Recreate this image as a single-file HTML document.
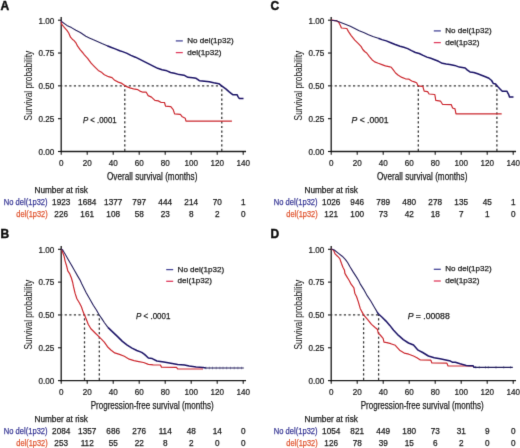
<!DOCTYPE html><html><head><meta charset="utf-8"><style>html,body{margin:0;padding:0;background:#fff;}svg{display:block;}</style></head><body>
<svg width="520" height="448" viewBox="0 0 520 448" font-family='"Liberation Sans", sans-serif'>
<defs><filter id="soft" x="0" y="0" width="520" height="448" filterUnits="userSpaceOnUse"><feConvolveMatrix order="3" kernelMatrix="0 1 0 1 8 1 0 1 0" divisor="12" edgeMode="none"/></filter></defs>
<rect width="520" height="448" fill="#fff"/>
<g filter="url(#soft)">
<g transform="translate(0,0)">
<text x="0.6" y="10.10" font-size="12" font-weight="bold" fill="#111" stroke="#111" stroke-width="0.45">A</text>
<line x1="61.2" y1="17" x2="61.2" y2="152.1" stroke="#1a1a1a" stroke-width="1.3"/>
<line x1="60.6" y1="151.5" x2="246" y2="151.5" stroke="#1a1a1a" stroke-width="1.3"/>
<line x1="58" y1="151.50" x2="61.2" y2="151.50" stroke="#1a1a1a" stroke-width="1.1"/>
<text transform="translate(54.2,154.85) scale(0.88,1)" font-size="9.2" text-anchor="end" fill="#222222" stroke="#222222" stroke-width="0.25">0.00</text>
<line x1="58" y1="118.67" x2="61.2" y2="118.67" stroke="#1a1a1a" stroke-width="1.1"/>
<text transform="translate(54.2,122.02) scale(0.88,1)" font-size="9.2" text-anchor="end" fill="#222222" stroke="#222222" stroke-width="0.25">0.25</text>
<line x1="58" y1="85.85" x2="61.2" y2="85.85" stroke="#1a1a1a" stroke-width="1.1"/>
<text transform="translate(54.2,89.20) scale(0.88,1)" font-size="9.2" text-anchor="end" fill="#222222" stroke="#222222" stroke-width="0.25">0.50</text>
<line x1="58" y1="53.02" x2="61.2" y2="53.02" stroke="#1a1a1a" stroke-width="1.1"/>
<text transform="translate(54.2,56.37) scale(0.88,1)" font-size="9.2" text-anchor="end" fill="#222222" stroke="#222222" stroke-width="0.25">0.75</text>
<line x1="58" y1="20.20" x2="61.2" y2="20.20" stroke="#1a1a1a" stroke-width="1.1"/>
<text transform="translate(54.2,23.55) scale(0.88,1)" font-size="9.2" text-anchor="end" fill="#222222" stroke="#222222" stroke-width="0.25">1.00</text>
<line x1="61.20" y1="151.5" x2="61.20" y2="154.7" stroke="#1a1a1a" stroke-width="1.1"/>
<text transform="translate(61.20,165.6) scale(0.88,1)" font-size="9.2" text-anchor="middle" fill="#222222" stroke="#222222" stroke-width="0.25">0</text>
<line x1="87.20" y1="151.5" x2="87.20" y2="154.7" stroke="#1a1a1a" stroke-width="1.1"/>
<text transform="translate(87.20,165.6) scale(0.88,1)" font-size="9.2" text-anchor="middle" fill="#222222" stroke="#222222" stroke-width="0.25">20</text>
<line x1="113.20" y1="151.5" x2="113.20" y2="154.7" stroke="#1a1a1a" stroke-width="1.1"/>
<text transform="translate(113.20,165.6) scale(0.88,1)" font-size="9.2" text-anchor="middle" fill="#222222" stroke="#222222" stroke-width="0.25">40</text>
<line x1="139.20" y1="151.5" x2="139.20" y2="154.7" stroke="#1a1a1a" stroke-width="1.1"/>
<text transform="translate(139.20,165.6) scale(0.88,1)" font-size="9.2" text-anchor="middle" fill="#222222" stroke="#222222" stroke-width="0.25">60</text>
<line x1="165.20" y1="151.5" x2="165.20" y2="154.7" stroke="#1a1a1a" stroke-width="1.1"/>
<text transform="translate(165.20,165.6) scale(0.88,1)" font-size="9.2" text-anchor="middle" fill="#222222" stroke="#222222" stroke-width="0.25">80</text>
<line x1="191.20" y1="151.5" x2="191.20" y2="154.7" stroke="#1a1a1a" stroke-width="1.1"/>
<text transform="translate(191.20,165.6) scale(0.88,1)" font-size="9.2" text-anchor="middle" fill="#222222" stroke="#222222" stroke-width="0.25">100</text>
<line x1="217.20" y1="151.5" x2="217.20" y2="154.7" stroke="#1a1a1a" stroke-width="1.1"/>
<text transform="translate(217.20,165.6) scale(0.88,1)" font-size="9.2" text-anchor="middle" fill="#222222" stroke="#222222" stroke-width="0.25">120</text>
<line x1="243.20" y1="151.5" x2="243.20" y2="154.7" stroke="#1a1a1a" stroke-width="1.1"/>
<text transform="translate(243.20,165.6) scale(0.88,1)" font-size="9.2" text-anchor="middle" fill="#222222" stroke="#222222" stroke-width="0.25">140</text>
<text x="152.2" y="179.8" font-size="10" text-anchor="middle" fill="#222222" stroke="#222222" stroke-width="0.25" textLength="90.5" lengthAdjust="spacingAndGlyphs">Overall survival (months)</text>
<text transform="translate(32.4,85.6) rotate(-90)" x="0" y="0" font-size="10.3" text-anchor="middle" fill="#222222" stroke="#222222" stroke-width="0.05" textLength="69.6" lengthAdjust="spacingAndGlyphs">Survival probability</text>
<text x="83.0" y="122.5" font-size="8.3" fill="#222222" stroke="#222222" stroke-width="0.25" textLength="33.6" lengthAdjust="spacingAndGlyphs"><tspan font-style="italic">P</tspan> &lt; .0001</text>
<line x1="175.8" y1="40.9" x2="182.8" y2="40.9" stroke="#4a4a9a" stroke-width="1.3"/>
<line x1="175.8" y1="52.599999999999994" x2="182.8" y2="52.599999999999994" stroke="#e04060" stroke-width="1.3"/>
<text x="187.20000000000002" y="43.1" font-size="8" fill="#222222" stroke="#222222" stroke-width="0.25" textLength="46.5" lengthAdjust="spacingAndGlyphs">No del(1p32)</text>
<text x="187.20000000000002" y="54.8" font-size="8" fill="#222222" stroke="#222222" stroke-width="0.25" textLength="34.3" lengthAdjust="spacingAndGlyphs">del(1p32)</text>
<text x="61.2" y="193" font-size="8.3" text-anchor="middle" fill="#222222" stroke="#222222" stroke-width="0.25" textLength="53.5" lengthAdjust="spacingAndGlyphs">Number at risk</text>
<text x="47.6" y="205.2" font-size="8.2" text-anchor="end" fill="#40409a" stroke="#40409a" stroke-width="0.25" textLength="43.8" lengthAdjust="spacingAndGlyphs">No del(1p32)</text>
<text x="47.6" y="217.3" font-size="8.2" text-anchor="end" fill="#e05834" stroke="#e05834" stroke-width="0.25" textLength="31.3" lengthAdjust="spacingAndGlyphs">del(1p32)</text>
<text x="61.20" y="205.2" font-size="8.2" text-anchor="middle" fill="#222222" stroke="#222222" stroke-width="0.25">1923</text>
<text x="87.20" y="205.2" font-size="8.2" text-anchor="middle" fill="#222222" stroke="#222222" stroke-width="0.25">1684</text>
<text x="113.20" y="205.2" font-size="8.2" text-anchor="middle" fill="#222222" stroke="#222222" stroke-width="0.25">1377</text>
<text x="139.20" y="205.2" font-size="8.2" text-anchor="middle" fill="#222222" stroke="#222222" stroke-width="0.25">797</text>
<text x="165.20" y="205.2" font-size="8.2" text-anchor="middle" fill="#222222" stroke="#222222" stroke-width="0.25">444</text>
<text x="191.20" y="205.2" font-size="8.2" text-anchor="middle" fill="#222222" stroke="#222222" stroke-width="0.25">214</text>
<text x="217.20" y="205.2" font-size="8.2" text-anchor="middle" fill="#222222" stroke="#222222" stroke-width="0.25">70</text>
<text x="243.20" y="205.2" font-size="8.2" text-anchor="middle" fill="#222222" stroke="#222222" stroke-width="0.25">1</text>
<text x="61.20" y="217.3" font-size="8.2" text-anchor="middle" fill="#222222" stroke="#222222" stroke-width="0.25">226</text>
<text x="87.20" y="217.3" font-size="8.2" text-anchor="middle" fill="#222222" stroke="#222222" stroke-width="0.25">161</text>
<text x="113.20" y="217.3" font-size="8.2" text-anchor="middle" fill="#222222" stroke="#222222" stroke-width="0.25">108</text>
<text x="139.20" y="217.3" font-size="8.2" text-anchor="middle" fill="#222222" stroke="#222222" stroke-width="0.25">58</text>
<text x="165.20" y="217.3" font-size="8.2" text-anchor="middle" fill="#222222" stroke="#222222" stroke-width="0.25">23</text>
<text x="191.20" y="217.3" font-size="8.2" text-anchor="middle" fill="#222222" stroke="#222222" stroke-width="0.25">8</text>
<text x="217.20" y="217.3" font-size="8.2" text-anchor="middle" fill="#222222" stroke="#222222" stroke-width="0.25">2</text>
<text x="243.20" y="217.3" font-size="8.2" text-anchor="middle" fill="#222222" stroke="#222222" stroke-width="0.25">0</text>
</g>
<g transform="translate(270,0)">
<text x="0.6" y="10.10" font-size="12" font-weight="bold" fill="#111" stroke="#111" stroke-width="0.45">C</text>
<line x1="61.2" y1="17" x2="61.2" y2="152.1" stroke="#1a1a1a" stroke-width="1.3"/>
<line x1="60.6" y1="151.5" x2="246" y2="151.5" stroke="#1a1a1a" stroke-width="1.3"/>
<line x1="58" y1="151.50" x2="61.2" y2="151.50" stroke="#1a1a1a" stroke-width="1.1"/>
<text transform="translate(54.2,154.85) scale(0.88,1)" font-size="9.2" text-anchor="end" fill="#222222" stroke="#222222" stroke-width="0.25">0.00</text>
<line x1="58" y1="118.67" x2="61.2" y2="118.67" stroke="#1a1a1a" stroke-width="1.1"/>
<text transform="translate(54.2,122.02) scale(0.88,1)" font-size="9.2" text-anchor="end" fill="#222222" stroke="#222222" stroke-width="0.25">0.25</text>
<line x1="58" y1="85.85" x2="61.2" y2="85.85" stroke="#1a1a1a" stroke-width="1.1"/>
<text transform="translate(54.2,89.20) scale(0.88,1)" font-size="9.2" text-anchor="end" fill="#222222" stroke="#222222" stroke-width="0.25">0.50</text>
<line x1="58" y1="53.02" x2="61.2" y2="53.02" stroke="#1a1a1a" stroke-width="1.1"/>
<text transform="translate(54.2,56.37) scale(0.88,1)" font-size="9.2" text-anchor="end" fill="#222222" stroke="#222222" stroke-width="0.25">0.75</text>
<line x1="58" y1="20.20" x2="61.2" y2="20.20" stroke="#1a1a1a" stroke-width="1.1"/>
<text transform="translate(54.2,23.55) scale(0.88,1)" font-size="9.2" text-anchor="end" fill="#222222" stroke="#222222" stroke-width="0.25">1.00</text>
<line x1="61.20" y1="151.5" x2="61.20" y2="154.7" stroke="#1a1a1a" stroke-width="1.1"/>
<text transform="translate(61.20,165.6) scale(0.88,1)" font-size="9.2" text-anchor="middle" fill="#222222" stroke="#222222" stroke-width="0.25">0</text>
<line x1="87.20" y1="151.5" x2="87.20" y2="154.7" stroke="#1a1a1a" stroke-width="1.1"/>
<text transform="translate(87.20,165.6) scale(0.88,1)" font-size="9.2" text-anchor="middle" fill="#222222" stroke="#222222" stroke-width="0.25">20</text>
<line x1="113.20" y1="151.5" x2="113.20" y2="154.7" stroke="#1a1a1a" stroke-width="1.1"/>
<text transform="translate(113.20,165.6) scale(0.88,1)" font-size="9.2" text-anchor="middle" fill="#222222" stroke="#222222" stroke-width="0.25">40</text>
<line x1="139.20" y1="151.5" x2="139.20" y2="154.7" stroke="#1a1a1a" stroke-width="1.1"/>
<text transform="translate(139.20,165.6) scale(0.88,1)" font-size="9.2" text-anchor="middle" fill="#222222" stroke="#222222" stroke-width="0.25">60</text>
<line x1="165.20" y1="151.5" x2="165.20" y2="154.7" stroke="#1a1a1a" stroke-width="1.1"/>
<text transform="translate(165.20,165.6) scale(0.88,1)" font-size="9.2" text-anchor="middle" fill="#222222" stroke="#222222" stroke-width="0.25">80</text>
<line x1="191.20" y1="151.5" x2="191.20" y2="154.7" stroke="#1a1a1a" stroke-width="1.1"/>
<text transform="translate(191.20,165.6) scale(0.88,1)" font-size="9.2" text-anchor="middle" fill="#222222" stroke="#222222" stroke-width="0.25">100</text>
<line x1="217.20" y1="151.5" x2="217.20" y2="154.7" stroke="#1a1a1a" stroke-width="1.1"/>
<text transform="translate(217.20,165.6) scale(0.88,1)" font-size="9.2" text-anchor="middle" fill="#222222" stroke="#222222" stroke-width="0.25">120</text>
<line x1="243.20" y1="151.5" x2="243.20" y2="154.7" stroke="#1a1a1a" stroke-width="1.1"/>
<text transform="translate(243.20,165.6) scale(0.88,1)" font-size="9.2" text-anchor="middle" fill="#222222" stroke="#222222" stroke-width="0.25">140</text>
<text x="152.2" y="179.8" font-size="10" text-anchor="middle" fill="#222222" stroke="#222222" stroke-width="0.25" textLength="90.5" lengthAdjust="spacingAndGlyphs">Overall survival (months)</text>
<text transform="translate(32.4,85.6) rotate(-90)" x="0" y="0" font-size="10.3" text-anchor="middle" fill="#222222" stroke="#222222" stroke-width="0.05" textLength="69.6" lengthAdjust="spacingAndGlyphs">Survival probability</text>
<text x="81.60000000000002" y="123.0" font-size="8.9" fill="#222222" stroke="#222222" stroke-width="0.25" textLength="37.0" lengthAdjust="spacingAndGlyphs"><tspan font-style="italic">P</tspan> &lt; .0001</text>
<line x1="163.8" y1="30.9" x2="170.8" y2="30.9" stroke="#4a4a9a" stroke-width="1.3"/>
<line x1="163.8" y1="42.599999999999994" x2="170.8" y2="42.599999999999994" stroke="#e04060" stroke-width="1.3"/>
<text x="175.20000000000002" y="33.1" font-size="8" fill="#222222" stroke="#222222" stroke-width="0.25" textLength="46.5" lengthAdjust="spacingAndGlyphs">No del(1p32)</text>
<text x="175.20000000000002" y="44.8" font-size="8" fill="#222222" stroke="#222222" stroke-width="0.25" textLength="34.3" lengthAdjust="spacingAndGlyphs">del(1p32)</text>
<text x="61.2" y="193" font-size="8.3" text-anchor="middle" fill="#222222" stroke="#222222" stroke-width="0.25" textLength="53.5" lengthAdjust="spacingAndGlyphs">Number at risk</text>
<text x="47.6" y="205.2" font-size="8.2" text-anchor="end" fill="#40409a" stroke="#40409a" stroke-width="0.25" textLength="43.8" lengthAdjust="spacingAndGlyphs">No del(1p32)</text>
<text x="47.6" y="217.3" font-size="8.2" text-anchor="end" fill="#e05834" stroke="#e05834" stroke-width="0.25" textLength="31.3" lengthAdjust="spacingAndGlyphs">del(1p32)</text>
<text x="61.20" y="205.2" font-size="8.2" text-anchor="middle" fill="#222222" stroke="#222222" stroke-width="0.25">1026</text>
<text x="87.20" y="205.2" font-size="8.2" text-anchor="middle" fill="#222222" stroke="#222222" stroke-width="0.25">946</text>
<text x="113.20" y="205.2" font-size="8.2" text-anchor="middle" fill="#222222" stroke="#222222" stroke-width="0.25">789</text>
<text x="139.20" y="205.2" font-size="8.2" text-anchor="middle" fill="#222222" stroke="#222222" stroke-width="0.25">480</text>
<text x="165.20" y="205.2" font-size="8.2" text-anchor="middle" fill="#222222" stroke="#222222" stroke-width="0.25">278</text>
<text x="191.20" y="205.2" font-size="8.2" text-anchor="middle" fill="#222222" stroke="#222222" stroke-width="0.25">135</text>
<text x="217.20" y="205.2" font-size="8.2" text-anchor="middle" fill="#222222" stroke="#222222" stroke-width="0.25">45</text>
<text x="243.20" y="205.2" font-size="8.2" text-anchor="middle" fill="#222222" stroke="#222222" stroke-width="0.25">1</text>
<text x="61.20" y="217.3" font-size="8.2" text-anchor="middle" fill="#222222" stroke="#222222" stroke-width="0.25">121</text>
<text x="87.20" y="217.3" font-size="8.2" text-anchor="middle" fill="#222222" stroke="#222222" stroke-width="0.25">100</text>
<text x="113.20" y="217.3" font-size="8.2" text-anchor="middle" fill="#222222" stroke="#222222" stroke-width="0.25">73</text>
<text x="139.20" y="217.3" font-size="8.2" text-anchor="middle" fill="#222222" stroke="#222222" stroke-width="0.25">42</text>
<text x="165.20" y="217.3" font-size="8.2" text-anchor="middle" fill="#222222" stroke="#222222" stroke-width="0.25">18</text>
<text x="191.20" y="217.3" font-size="8.2" text-anchor="middle" fill="#222222" stroke="#222222" stroke-width="0.25">7</text>
<text x="217.20" y="217.3" font-size="8.2" text-anchor="middle" fill="#222222" stroke="#222222" stroke-width="0.25">1</text>
<text x="243.20" y="217.3" font-size="8.2" text-anchor="middle" fill="#222222" stroke="#222222" stroke-width="0.25">0</text>
</g>
<g transform="translate(0,229.1)">
<text x="0.6" y="8.70" font-size="12" font-weight="bold" fill="#111" stroke="#111" stroke-width="0.45">B</text>
<line x1="61.2" y1="17" x2="61.2" y2="152.1" stroke="#1a1a1a" stroke-width="1.3"/>
<line x1="60.6" y1="151.5" x2="246" y2="151.5" stroke="#1a1a1a" stroke-width="1.3"/>
<line x1="58" y1="151.50" x2="61.2" y2="151.50" stroke="#1a1a1a" stroke-width="1.1"/>
<text transform="translate(54.2,154.85) scale(0.88,1)" font-size="9.2" text-anchor="end" fill="#222222" stroke="#222222" stroke-width="0.25">0.00</text>
<line x1="58" y1="118.67" x2="61.2" y2="118.67" stroke="#1a1a1a" stroke-width="1.1"/>
<text transform="translate(54.2,122.02) scale(0.88,1)" font-size="9.2" text-anchor="end" fill="#222222" stroke="#222222" stroke-width="0.25">0.25</text>
<line x1="58" y1="85.85" x2="61.2" y2="85.85" stroke="#1a1a1a" stroke-width="1.1"/>
<text transform="translate(54.2,89.20) scale(0.88,1)" font-size="9.2" text-anchor="end" fill="#222222" stroke="#222222" stroke-width="0.25">0.50</text>
<line x1="58" y1="53.02" x2="61.2" y2="53.02" stroke="#1a1a1a" stroke-width="1.1"/>
<text transform="translate(54.2,56.37) scale(0.88,1)" font-size="9.2" text-anchor="end" fill="#222222" stroke="#222222" stroke-width="0.25">0.75</text>
<line x1="58" y1="20.20" x2="61.2" y2="20.20" stroke="#1a1a1a" stroke-width="1.1"/>
<text transform="translate(54.2,23.55) scale(0.88,1)" font-size="9.2" text-anchor="end" fill="#222222" stroke="#222222" stroke-width="0.25">1.00</text>
<line x1="61.20" y1="151.5" x2="61.20" y2="154.7" stroke="#1a1a1a" stroke-width="1.1"/>
<text transform="translate(61.20,165.6) scale(0.88,1)" font-size="9.2" text-anchor="middle" fill="#222222" stroke="#222222" stroke-width="0.25">0</text>
<line x1="87.20" y1="151.5" x2="87.20" y2="154.7" stroke="#1a1a1a" stroke-width="1.1"/>
<text transform="translate(87.20,165.6) scale(0.88,1)" font-size="9.2" text-anchor="middle" fill="#222222" stroke="#222222" stroke-width="0.25">20</text>
<line x1="113.20" y1="151.5" x2="113.20" y2="154.7" stroke="#1a1a1a" stroke-width="1.1"/>
<text transform="translate(113.20,165.6) scale(0.88,1)" font-size="9.2" text-anchor="middle" fill="#222222" stroke="#222222" stroke-width="0.25">40</text>
<line x1="139.20" y1="151.5" x2="139.20" y2="154.7" stroke="#1a1a1a" stroke-width="1.1"/>
<text transform="translate(139.20,165.6) scale(0.88,1)" font-size="9.2" text-anchor="middle" fill="#222222" stroke="#222222" stroke-width="0.25">60</text>
<line x1="165.20" y1="151.5" x2="165.20" y2="154.7" stroke="#1a1a1a" stroke-width="1.1"/>
<text transform="translate(165.20,165.6) scale(0.88,1)" font-size="9.2" text-anchor="middle" fill="#222222" stroke="#222222" stroke-width="0.25">80</text>
<line x1="191.20" y1="151.5" x2="191.20" y2="154.7" stroke="#1a1a1a" stroke-width="1.1"/>
<text transform="translate(191.20,165.6) scale(0.88,1)" font-size="9.2" text-anchor="middle" fill="#222222" stroke="#222222" stroke-width="0.25">100</text>
<line x1="217.20" y1="151.5" x2="217.20" y2="154.7" stroke="#1a1a1a" stroke-width="1.1"/>
<text transform="translate(217.20,165.6) scale(0.88,1)" font-size="9.2" text-anchor="middle" fill="#222222" stroke="#222222" stroke-width="0.25">120</text>
<line x1="243.20" y1="151.5" x2="243.20" y2="154.7" stroke="#1a1a1a" stroke-width="1.1"/>
<text transform="translate(243.20,165.6) scale(0.88,1)" font-size="9.2" text-anchor="middle" fill="#222222" stroke="#222222" stroke-width="0.25">140</text>
<text x="152.2" y="179.8" font-size="10" text-anchor="middle" fill="#222222" stroke="#222222" stroke-width="0.25" textLength="123" lengthAdjust="spacingAndGlyphs">Progression-free survival (months)</text>
<text transform="translate(32.4,85.6) rotate(-90)" x="0" y="0" font-size="10.3" text-anchor="middle" fill="#222222" stroke="#222222" stroke-width="0.05" textLength="69.6" lengthAdjust="spacingAndGlyphs">Survival probability</text>
<text x="136.1" y="89.79999999999998" font-size="8.6" fill="#222222" stroke="#222222" stroke-width="0.25" textLength="34.3" lengthAdjust="spacingAndGlyphs"><tspan font-style="italic">P</tspan> &lt; .0001</text>
<line x1="166.2" y1="40.50000000000003" x2="173.2" y2="40.50000000000003" stroke="#4a4a9a" stroke-width="1.3"/>
<line x1="166.2" y1="52.20000000000003" x2="173.2" y2="52.20000000000003" stroke="#e04060" stroke-width="1.3"/>
<text x="177.6" y="42.70000000000003" font-size="8" fill="#222222" stroke="#222222" stroke-width="0.25" textLength="46.5" lengthAdjust="spacingAndGlyphs">No del(1p32)</text>
<text x="177.6" y="54.40000000000003" font-size="8" fill="#222222" stroke="#222222" stroke-width="0.25" textLength="34.3" lengthAdjust="spacingAndGlyphs">del(1p32)</text>
<text x="61.2" y="193" font-size="8.3" text-anchor="middle" fill="#222222" stroke="#222222" stroke-width="0.25" textLength="53.5" lengthAdjust="spacingAndGlyphs">Number at risk</text>
<text x="47.6" y="205.2" font-size="8.2" text-anchor="end" fill="#40409a" stroke="#40409a" stroke-width="0.25" textLength="43.8" lengthAdjust="spacingAndGlyphs">No del(1p32)</text>
<text x="47.6" y="217.3" font-size="8.2" text-anchor="end" fill="#e05834" stroke="#e05834" stroke-width="0.25" textLength="31.3" lengthAdjust="spacingAndGlyphs">del(1p32)</text>
<text x="61.20" y="205.2" font-size="8.2" text-anchor="middle" fill="#222222" stroke="#222222" stroke-width="0.25">2084</text>
<text x="87.20" y="205.2" font-size="8.2" text-anchor="middle" fill="#222222" stroke="#222222" stroke-width="0.25">1357</text>
<text x="113.20" y="205.2" font-size="8.2" text-anchor="middle" fill="#222222" stroke="#222222" stroke-width="0.25">686</text>
<text x="139.20" y="205.2" font-size="8.2" text-anchor="middle" fill="#222222" stroke="#222222" stroke-width="0.25">276</text>
<text x="165.20" y="205.2" font-size="8.2" text-anchor="middle" fill="#222222" stroke="#222222" stroke-width="0.25">114</text>
<text x="191.20" y="205.2" font-size="8.2" text-anchor="middle" fill="#222222" stroke="#222222" stroke-width="0.25">48</text>
<text x="217.20" y="205.2" font-size="8.2" text-anchor="middle" fill="#222222" stroke="#222222" stroke-width="0.25">14</text>
<text x="243.20" y="205.2" font-size="8.2" text-anchor="middle" fill="#222222" stroke="#222222" stroke-width="0.25">0</text>
<text x="61.20" y="217.3" font-size="8.2" text-anchor="middle" fill="#222222" stroke="#222222" stroke-width="0.25">253</text>
<text x="87.20" y="217.3" font-size="8.2" text-anchor="middle" fill="#222222" stroke="#222222" stroke-width="0.25">112</text>
<text x="113.20" y="217.3" font-size="8.2" text-anchor="middle" fill="#222222" stroke="#222222" stroke-width="0.25">55</text>
<text x="139.20" y="217.3" font-size="8.2" text-anchor="middle" fill="#222222" stroke="#222222" stroke-width="0.25">22</text>
<text x="165.20" y="217.3" font-size="8.2" text-anchor="middle" fill="#222222" stroke="#222222" stroke-width="0.25">8</text>
<text x="191.20" y="217.3" font-size="8.2" text-anchor="middle" fill="#222222" stroke="#222222" stroke-width="0.25">2</text>
<text x="217.20" y="217.3" font-size="8.2" text-anchor="middle" fill="#222222" stroke="#222222" stroke-width="0.25">0</text>
<text x="243.20" y="217.3" font-size="8.2" text-anchor="middle" fill="#222222" stroke="#222222" stroke-width="0.25">0</text>
</g>
<g transform="translate(270,229.1)">
<text x="0.6" y="8.70" font-size="12" font-weight="bold" fill="#111" stroke="#111" stroke-width="0.45">D</text>
<line x1="61.2" y1="17" x2="61.2" y2="152.1" stroke="#1a1a1a" stroke-width="1.3"/>
<line x1="60.6" y1="151.5" x2="246" y2="151.5" stroke="#1a1a1a" stroke-width="1.3"/>
<line x1="58" y1="151.50" x2="61.2" y2="151.50" stroke="#1a1a1a" stroke-width="1.1"/>
<text transform="translate(54.2,154.85) scale(0.88,1)" font-size="9.2" text-anchor="end" fill="#222222" stroke="#222222" stroke-width="0.25">0.00</text>
<line x1="58" y1="118.67" x2="61.2" y2="118.67" stroke="#1a1a1a" stroke-width="1.1"/>
<text transform="translate(54.2,122.02) scale(0.88,1)" font-size="9.2" text-anchor="end" fill="#222222" stroke="#222222" stroke-width="0.25">0.25</text>
<line x1="58" y1="85.85" x2="61.2" y2="85.85" stroke="#1a1a1a" stroke-width="1.1"/>
<text transform="translate(54.2,89.20) scale(0.88,1)" font-size="9.2" text-anchor="end" fill="#222222" stroke="#222222" stroke-width="0.25">0.50</text>
<line x1="58" y1="53.02" x2="61.2" y2="53.02" stroke="#1a1a1a" stroke-width="1.1"/>
<text transform="translate(54.2,56.37) scale(0.88,1)" font-size="9.2" text-anchor="end" fill="#222222" stroke="#222222" stroke-width="0.25">0.75</text>
<line x1="58" y1="20.20" x2="61.2" y2="20.20" stroke="#1a1a1a" stroke-width="1.1"/>
<text transform="translate(54.2,23.55) scale(0.88,1)" font-size="9.2" text-anchor="end" fill="#222222" stroke="#222222" stroke-width="0.25">1.00</text>
<line x1="61.20" y1="151.5" x2="61.20" y2="154.7" stroke="#1a1a1a" stroke-width="1.1"/>
<text transform="translate(61.20,165.6) scale(0.88,1)" font-size="9.2" text-anchor="middle" fill="#222222" stroke="#222222" stroke-width="0.25">0</text>
<line x1="87.20" y1="151.5" x2="87.20" y2="154.7" stroke="#1a1a1a" stroke-width="1.1"/>
<text transform="translate(87.20,165.6) scale(0.88,1)" font-size="9.2" text-anchor="middle" fill="#222222" stroke="#222222" stroke-width="0.25">20</text>
<line x1="113.20" y1="151.5" x2="113.20" y2="154.7" stroke="#1a1a1a" stroke-width="1.1"/>
<text transform="translate(113.20,165.6) scale(0.88,1)" font-size="9.2" text-anchor="middle" fill="#222222" stroke="#222222" stroke-width="0.25">40</text>
<line x1="139.20" y1="151.5" x2="139.20" y2="154.7" stroke="#1a1a1a" stroke-width="1.1"/>
<text transform="translate(139.20,165.6) scale(0.88,1)" font-size="9.2" text-anchor="middle" fill="#222222" stroke="#222222" stroke-width="0.25">60</text>
<line x1="165.20" y1="151.5" x2="165.20" y2="154.7" stroke="#1a1a1a" stroke-width="1.1"/>
<text transform="translate(165.20,165.6) scale(0.88,1)" font-size="9.2" text-anchor="middle" fill="#222222" stroke="#222222" stroke-width="0.25">80</text>
<line x1="191.20" y1="151.5" x2="191.20" y2="154.7" stroke="#1a1a1a" stroke-width="1.1"/>
<text transform="translate(191.20,165.6) scale(0.88,1)" font-size="9.2" text-anchor="middle" fill="#222222" stroke="#222222" stroke-width="0.25">100</text>
<line x1="217.20" y1="151.5" x2="217.20" y2="154.7" stroke="#1a1a1a" stroke-width="1.1"/>
<text transform="translate(217.20,165.6) scale(0.88,1)" font-size="9.2" text-anchor="middle" fill="#222222" stroke="#222222" stroke-width="0.25">120</text>
<line x1="243.20" y1="151.5" x2="243.20" y2="154.7" stroke="#1a1a1a" stroke-width="1.1"/>
<text transform="translate(243.20,165.6) scale(0.88,1)" font-size="9.2" text-anchor="middle" fill="#222222" stroke="#222222" stroke-width="0.25">140</text>
<text x="152.2" y="179.8" font-size="10" text-anchor="middle" fill="#222222" stroke="#222222" stroke-width="0.25" textLength="123" lengthAdjust="spacingAndGlyphs">Progression-free survival (months)</text>
<text transform="translate(32.4,85.6) rotate(-90)" x="0" y="0" font-size="10.3" text-anchor="middle" fill="#222222" stroke="#222222" stroke-width="0.05" textLength="69.6" lengthAdjust="spacingAndGlyphs">Survival probability</text>
<text x="137.7" y="89.50000000000003" font-size="8.5" fill="#222222" stroke="#222222" stroke-width="0.25" textLength="42.0" lengthAdjust="spacingAndGlyphs"><tspan font-style="italic">P</tspan> = .00088</text>
<line x1="163.8" y1="40.20000000000002" x2="170.8" y2="40.20000000000002" stroke="#4a4a9a" stroke-width="1.3"/>
<line x1="163.8" y1="51.90000000000002" x2="170.8" y2="51.90000000000002" stroke="#e04060" stroke-width="1.3"/>
<text x="175.20000000000002" y="42.40000000000002" font-size="8" fill="#222222" stroke="#222222" stroke-width="0.25" textLength="46.5" lengthAdjust="spacingAndGlyphs">No del(1p32)</text>
<text x="175.20000000000002" y="54.100000000000016" font-size="8" fill="#222222" stroke="#222222" stroke-width="0.25" textLength="34.3" lengthAdjust="spacingAndGlyphs">del(1p32)</text>
<text x="61.2" y="193" font-size="8.3" text-anchor="middle" fill="#222222" stroke="#222222" stroke-width="0.25" textLength="53.5" lengthAdjust="spacingAndGlyphs">Number at risk</text>
<text x="47.6" y="205.2" font-size="8.2" text-anchor="end" fill="#40409a" stroke="#40409a" stroke-width="0.25" textLength="43.8" lengthAdjust="spacingAndGlyphs">No del(1p32)</text>
<text x="47.6" y="217.3" font-size="8.2" text-anchor="end" fill="#e05834" stroke="#e05834" stroke-width="0.25" textLength="31.3" lengthAdjust="spacingAndGlyphs">del(1p32)</text>
<text x="61.20" y="205.2" font-size="8.2" text-anchor="middle" fill="#222222" stroke="#222222" stroke-width="0.25">1054</text>
<text x="87.20" y="205.2" font-size="8.2" text-anchor="middle" fill="#222222" stroke="#222222" stroke-width="0.25">821</text>
<text x="113.20" y="205.2" font-size="8.2" text-anchor="middle" fill="#222222" stroke="#222222" stroke-width="0.25">449</text>
<text x="139.20" y="205.2" font-size="8.2" text-anchor="middle" fill="#222222" stroke="#222222" stroke-width="0.25">180</text>
<text x="165.20" y="205.2" font-size="8.2" text-anchor="middle" fill="#222222" stroke="#222222" stroke-width="0.25">73</text>
<text x="191.20" y="205.2" font-size="8.2" text-anchor="middle" fill="#222222" stroke="#222222" stroke-width="0.25">31</text>
<text x="217.20" y="205.2" font-size="8.2" text-anchor="middle" fill="#222222" stroke="#222222" stroke-width="0.25">9</text>
<text x="243.20" y="205.2" font-size="8.2" text-anchor="middle" fill="#222222" stroke="#222222" stroke-width="0.25">0</text>
<text x="61.20" y="217.3" font-size="8.2" text-anchor="middle" fill="#222222" stroke="#222222" stroke-width="0.25">126</text>
<text x="87.20" y="217.3" font-size="8.2" text-anchor="middle" fill="#222222" stroke="#222222" stroke-width="0.25">78</text>
<text x="113.20" y="217.3" font-size="8.2" text-anchor="middle" fill="#222222" stroke="#222222" stroke-width="0.25">39</text>
<text x="139.20" y="217.3" font-size="8.2" text-anchor="middle" fill="#222222" stroke="#222222" stroke-width="0.25">15</text>
<text x="165.20" y="217.3" font-size="8.2" text-anchor="middle" fill="#222222" stroke="#222222" stroke-width="0.25">6</text>
<text x="191.20" y="217.3" font-size="8.2" text-anchor="middle" fill="#222222" stroke="#222222" stroke-width="0.25">2</text>
<text x="217.20" y="217.3" font-size="8.2" text-anchor="middle" fill="#222222" stroke="#222222" stroke-width="0.25">0</text>
<text x="243.20" y="217.3" font-size="8.2" text-anchor="middle" fill="#222222" stroke="#222222" stroke-width="0.25">0</text>
</g>
<line x1="61.2" y1="85.8" x2="221.8" y2="85.8" stroke="#3a3a3a" stroke-width="1.3" stroke-dasharray="2.2,2.38" stroke-dashoffset="1.1"/>
<line x1="124.8" y1="85.8" x2="124.8" y2="151.5" stroke="#3a3a3a" stroke-width="1.3" stroke-dasharray="2.2,2.38" stroke-dashoffset="1.1"/>
<line x1="221.8" y1="85.8" x2="221.8" y2="151.5" stroke="#3a3a3a" stroke-width="1.3" stroke-dasharray="2.2,2.38" stroke-dashoffset="1.1"/>
<line x1="331.2" y1="85.8" x2="496.9" y2="85.8" stroke="#3a3a3a" stroke-width="1.3" stroke-dasharray="2.2,2.38" stroke-dashoffset="1.1"/>
<line x1="418.3" y1="85.8" x2="418.3" y2="151.5" stroke="#3a3a3a" stroke-width="1.3" stroke-dasharray="2.2,2.38" stroke-dashoffset="1.1"/>
<line x1="496.9" y1="85.8" x2="496.9" y2="151.5" stroke="#3a3a3a" stroke-width="1.3" stroke-dasharray="2.2,2.38" stroke-dashoffset="1.1"/>
<line x1="61.2" y1="314.85" x2="99.3" y2="314.85" stroke="#3a3a3a" stroke-width="1.3" stroke-dasharray="2.2,2.38" stroke-dashoffset="1.1"/>
<line x1="84.5" y1="314.85" x2="84.5" y2="380.6" stroke="#3a3a3a" stroke-width="1.3" stroke-dasharray="2.2,2.38" stroke-dashoffset="1.1"/>
<line x1="99.3" y1="314.85" x2="99.3" y2="380.6" stroke="#3a3a3a" stroke-width="1.3" stroke-dasharray="2.2,2.38" stroke-dashoffset="1.1"/>
<line x1="331.2" y1="314.85" x2="378.6" y2="314.85" stroke="#3a3a3a" stroke-width="1.3" stroke-dasharray="2.2,2.38" stroke-dashoffset="1.1"/>
<line x1="363.6" y1="314.85" x2="363.6" y2="380.6" stroke="#3a3a3a" stroke-width="1.3" stroke-dasharray="2.2,2.38" stroke-dashoffset="1.1"/>
<line x1="378.6" y1="314.85" x2="378.6" y2="380.6" stroke="#3a3a3a" stroke-width="1.3" stroke-dasharray="2.2,2.38" stroke-dashoffset="1.1"/>
<polyline points="61.4,20.5 61.6,24.0 63.4,26.3 66.9,30.3 68.7,33.0 70.5,37.2 72.3,39.2 74.1,40.6 75.9,42.8 77.6,46.2 80.3,49.9 83.0,53.0 84.4,54.9 87.6,58.3 91.1,63.2 94.7,66.8 98.3,70.4 101.9,72.6 104.0,74.5 105.4,75.3 108.5,76.7 112.0,77.6 114.7,80.3 118.3,82.1 121.9,83.4 125.4,86.1 129.9,87.9 133.5,88.8 137.9,89.7 140.6,91.4 142.9,92.2 146.2,92.2 148.2,95.6 151.5,97.1 154.9,100.4 158.3,100.9 161.2,102.5 164.5,102.5 165.5,106.2 170.8,106.7 173.2,109.6 174.6,113.9 180.4,114.4 182.3,116.8 185.2,118.2 186.0,121.2 231.9,121.2" fill="none" stroke="#cc2a30" stroke-width="1.2" stroke-linejoin="round"/>
<polyline points="61.4,20.4 61.8,21.8 66.9,25.4 71.4,27.6 75.9,30.3 80.3,32.5 85.8,36.2 89.3,37.9 92.9,39.6 101.9,43.6 107.2,45.8" fill="none" stroke="#26215e" stroke-width="1.1" stroke-linejoin="round"/>
<polyline points="107.2,45.8 110.8,47.2 115.2,48.9 119.7,50.7 122.5,51.6 126.5,53.1 130.9,55.4 135.4,57.2 139.9,59.4 144.3,61.6 148.8,63.9 153.2,66.1 157.7,68.3 162.0,69.7 165.8,70.4 170.6,72.5 174.4,73.3 179.2,74.6 184.0,75.2 187.9,77.3 192.7,77.8 196.1,78.3 199.4,80.7 202.3,81.0 207.1,81.5 209.3,81.7 213.7,82.8 218.8,83.7 222.3,86.3 225.8,88.9 229.2,91.9 232.7,94.7 237.0,94.7 238.3,97.1 239.2,98.4 243.5,98.4" fill="none" stroke="#1c1468" stroke-width="1.5" stroke-linejoin="round"/>
<polyline points="331.4,20.2 336.9,20.9 338.7,22.2 340.5,25.8 341.4,28.0 346.8,28.5 348.5,31.6 351.2,35.6 354.8,40.1 358.4,43.7 361.0,46.4 362.8,49.5 364.6,51.5 366.7,53.0 369.4,56.6 372.0,59.7 374.7,61.9 378.3,63.3 381.9,64.6 385.4,65.9 389.9,66.8 391.1,67.2 392.9,69.4 395.6,73.0 398.3,75.2 401.9,77.4 405.4,78.8 409.0,79.2 411.7,81.0 414.4,81.9 416.6,82.8 417.9,85.5 419.7,86.2 422.8,86.3 424.2,91.1 427.6,91.6 429.1,94.0 434.8,94.5 435.8,100.3 440.6,101.2 442.5,104.3 451.2,104.6 452.6,108.0 455.0,108.9 456.0,113.8 501.7,113.8" fill="none" stroke="#cc2a30" stroke-width="1.2" stroke-linejoin="round"/>
<polyline points="331.4,20.2 336.9,20.9 341.4,22.7 345.9,24.5 350.3,26.3 354.8,28.5 359.2,30.7 363.7,32.5 368.5,34.7 372.9,36.5 378.3,38.3" fill="none" stroke="#26215e" stroke-width="1.1" stroke-linejoin="round"/>
<polyline points="378.3,38.3 381.9,39.6 386.3,40.9 390.8,42.7 395.2,44.5 400.0,46.2 403.8,47.2 407.7,48.6 411.5,50.6 415.4,52.5 419.2,53.5 423.1,55.4 426.9,57.1 430.8,58.3 434.6,59.7 438.5,61.3 442.3,63.3 446.2,64.0 449.8,64.5 454.6,65.4 459.4,67.1 465.2,68.0 467.1,69.9 470.0,71.9 473.8,72.5 477.7,73.8 481.5,75.2 485.4,76.8 488.9,78.2 491.6,80.5 493.4,83.6 495.6,84.0 497.9,86.7 500.5,89.4 502.3,91.2 506.8,91.2 508.6,94.3 509.5,96.9 513.5,96.9" fill="none" stroke="#1c1468" stroke-width="1.5" stroke-linejoin="round"/>
<polyline points="61.4,249.3 62.0,249.9 62.9,253.0 64.2,256.6 65.1,261.1 66.5,265.5 67.8,270.9 69.6,273.6 71.4,278.0 72.7,282.5 73.4,286.2 75.1,293.4 76.9,298.8 79.6,303.2 81.4,306.8 83.2,312.1 84.7,315.4 86.5,319.8 88.2,324.3 90.9,328.8 95.4,333.2 99.9,337.7 104.3,342.1 108.0,347.3 110.9,350.0 114.7,352.9 119.5,354.4 124.3,356.3 129.2,359.2 134.0,360.6 138.8,361.6 143.6,362.5 148.4,364.4 153.2,364.8 160.4,365.0 161.5,367.1 176.5,367.3 177.7,369.0 203.0,369.0" fill="none" stroke="#cc2a30" stroke-width="1.2" stroke-linejoin="round"/>
<polyline points="61.4,249.1 62.7,250.0 65.5,254.7 68.6,260.2 71.7,265.6 74.8,271.1 78.0,276.6 80.3,280.5 82.1,284.6 86.2,292.8 90.2,299.8 93.3,305.3 96.4,310.0 99.1,314.7 102.3,319.4 104.3,322.5 107.9,327.4" fill="none" stroke="#26215e" stroke-width="1.1" stroke-linejoin="round"/>
<polyline points="107.9,327.4 112.6,331.9 117.6,336.6 122.4,341.4 127.2,345.2 132.0,348.1 136.8,350.5 141.7,352.4 144.5,354.4 148.4,358.0 152.2,358.6 156.9,361.0 163.8,362.1 170.8,363.3 177.7,364.4 184.6,365.0 189.2,366.1 196.1,367.1 203.1,367.5 206.0,367.9" fill="none" stroke="#1c1468" stroke-width="1.5" stroke-linejoin="round"/>
<polyline points="206.0,368.0 243.8,368.0" fill="none" stroke="#26215e" stroke-width="1.2" stroke-linejoin="round"/>
<line x1="206" y1="366.7" x2="206" y2="369.3" stroke="#26215e" stroke-width="0.8" opacity="0.5"/>
<line x1="209.3" y1="366.7" x2="209.3" y2="369.3" stroke="#26215e" stroke-width="0.8" opacity="0.5"/>
<line x1="212.5" y1="366.7" x2="212.5" y2="369.3" stroke="#26215e" stroke-width="0.8" opacity="0.5"/>
<line x1="216.2" y1="366.7" x2="216.2" y2="369.3" stroke="#26215e" stroke-width="0.8" opacity="0.5"/>
<line x1="219.9" y1="366.7" x2="219.9" y2="369.3" stroke="#26215e" stroke-width="0.8" opacity="0.5"/>
<line x1="223" y1="366.7" x2="223" y2="369.3" stroke="#26215e" stroke-width="0.8" opacity="0.5"/>
<line x1="226.7" y1="366.7" x2="226.7" y2="369.3" stroke="#26215e" stroke-width="0.8" opacity="0.5"/>
<line x1="230.4" y1="366.7" x2="230.4" y2="369.3" stroke="#26215e" stroke-width="0.8" opacity="0.5"/>
<line x1="234.2" y1="366.7" x2="234.2" y2="369.3" stroke="#26215e" stroke-width="0.8" opacity="0.5"/>
<line x1="237.9" y1="366.7" x2="237.9" y2="369.3" stroke="#26215e" stroke-width="0.8" opacity="0.5"/>
<line x1="241.6" y1="366.7" x2="241.6" y2="369.3" stroke="#26215e" stroke-width="0.8" opacity="0.5"/>
<polyline points="331.4,249.0 333.6,250.2 335.1,253.9 337.5,256.2 339.8,258.6 341.4,263.3 342.9,267.2 344.5,270.3 344.9,273.4 346.8,276.6 349.2,280.5 351.1,284.2 353.9,287.8 354.8,293.2 356.6,296.8 358.4,302.1 360.2,308.4 362.0,311.9 363.8,315.1 367.7,319.6 371.5,324.4 375.4,327.8 377.3,329.2 378.3,333.1 380.2,335.0 383.1,338.4 384.0,342.2 386.9,342.7 390.8,343.7 395.3,345.3 399.6,350.2 404.2,353.1 408.8,354.2 413.5,356.0 416.9,357.7 420.4,360.0 430.8,360.2 431.9,362.9 446.9,363.2 448.1,366.0 473.1,366.0" fill="none" stroke="#cc2a30" stroke-width="1.2" stroke-linejoin="round"/>
<polyline points="331.4,249.0 334.3,250.0 338.2,253.1 342.2,256.2 345.3,259.4 347.6,262.5 350.0,266.8 353.1,271.9 356.2,276.6 358.6,280.5 360.5,284.4 363.8,289.6 367.3,295.9 370.9,301.2 374.5,307.5 377.1,311.9" fill="none" stroke="#26215e" stroke-width="1.1" stroke-linejoin="round"/>
<polyline points="377.1,311.9 378.3,313.8 382.1,317.2 386.0,321.1 389.8,325.4 393.6,330.2 398.5,335.4 403.3,339.6 408.5,343.0 413.5,345.0 418.1,350.2 422.7,352.5 428.4,356.0 434.2,357.7 440.0,358.8 445.8,360.0 450.4,361.1 452.7,362.3 455.4,362.3 460.0,363.8 466.2,365.4 469.2,365.8 473.0,365.7 473.8,367.2 476.0,367.3" fill="none" stroke="#1c1468" stroke-width="1.5" stroke-linejoin="round"/>
<polyline points="476.0,367.3 512.8,367.3" fill="none" stroke="#26215e" stroke-width="1.2" stroke-linejoin="round"/>
<line x1="475.8" y1="366.0" x2="475.8" y2="368.6" stroke="#26215e" stroke-width="0.8" opacity="0.5"/>
<line x1="479.3" y1="366.0" x2="479.3" y2="368.6" stroke="#26215e" stroke-width="0.8" opacity="0.5"/>
<line x1="485.4" y1="366.0" x2="485.4" y2="368.6" stroke="#26215e" stroke-width="0.8" opacity="0.5"/>
<line x1="488.3" y1="366.0" x2="488.3" y2="368.6" stroke="#26215e" stroke-width="0.8" opacity="0.5"/>
<line x1="496" y1="366.0" x2="496" y2="368.6" stroke="#26215e" stroke-width="0.8" opacity="0.5"/>
<line x1="503.7" y1="366.0" x2="503.7" y2="368.6" stroke="#26215e" stroke-width="0.8" opacity="0.5"/>
<line x1="510.4" y1="366.0" x2="510.4" y2="368.6" stroke="#26215e" stroke-width="0.8" opacity="0.5"/>
</g></svg></body></html>
